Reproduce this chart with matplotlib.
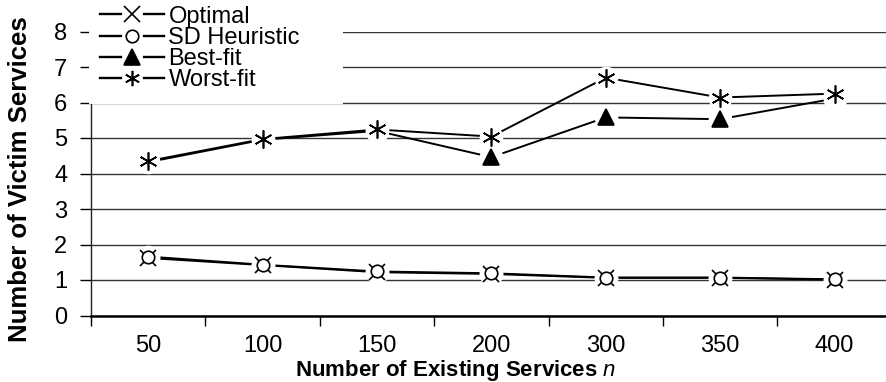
import matplotlib
matplotlib.use('Agg')
import matplotlib.pyplot as plt
import matplotlib.transforms as mtrans
from matplotlib.patches import Rectangle
from matplotlib.lines import Line2D
from matplotlib.legend_handler import HandlerTuple
import numpy as np

plt.rcParams['font.family'] = ['Liberation Sans', 'DejaVu Sans']
plt.rcParams['mathtext.fontset'] = 'custom'
plt.rcParams['mathtext.it'] = 'Liberation Sans:italic'

# data
categories = ['50', '100', '150', '200', '300', '350', '400']
optimal = [1.62, 1.42, 1.22, 1.17, 1.06, 1.06, 1.01]
sd_heuristic = [1.66, 1.43, 1.24, 1.19, 1.07, 1.07, 1.02]
best_fit = [4.32, 4.95, 5.20, 4.46, 5.58, 5.53, 6.11]
worst_fit = [4.35, 4.97, 5.24, 5.04, 6.70, 6.14, 6.25]

x = np.arange(len(categories))
asterisk = (6, 2, 0)

fig = plt.figure(figsize=(8.86, 3.82), dpi=100)
ax = fig.add_axes([91/886, 66.5/382, 795/886, 284/382])

# gridlines
ax.set_ylim(0, 8)
ax.set_xlim(-0.5, 6.45)
ax.set_yticks(range(0, 9))
ax.yaxis.grid(True, color='#333333', lw=1.0, zorder=0)
ax.set_axisbelow(True)

series = [
    (optimal, 'x', 11.5, 'Optimal', None),
    (sd_heuristic, 'o', 9, 'SD Heuristic', None),
    (best_fit, '^', 11, 'Best-fit', [3, 4, 5]),
    (worst_fit, asterisk, 13, 'Worst-fit', None),
]

handles = []
labels = []
for vals, mk, ms, name, mev in series:
    ax.plot(x, vals, color='black', lw=1.4, zorder=2)
    # white halo around markers (gap in lines)
    ax.plot(x, vals, ls='none', marker='o', ms=17, mfc='white', mec='none', zorder=3)
for vals, mk, ms, name, mev in series:
    fill = 'black' if mk == '^' else 'white'
    ax.plot(x, vals, ls='none', marker=mk, ms=ms, mfc=fill, mec='black', mew=1.2,
            markevery=mev, zorder=4)
    h_line = Line2D([], [], color='black', lw=1.7)
    h_halo = Line2D([], [], ls='none', marker='o', ms=15, mfc='white', mec='none')
    h_mark = Line2D([], [], ls='none', marker=mk, ms=min(ms, 11), mfc=fill,
                    mec='black', mew=1.2)
    handles.append((h_line, h_halo, h_mark))
    labels.append(name)

# white area behind legend
tr = mtrans.blended_transform_factory(ax.transAxes, ax.transData)
ax.add_patch(Rectangle((-0.003, 5.97), 0.32, 4, transform=tr, facecolor='white',
                       edgecolor='none', zorder=5, clip_on=False))

leg = fig.legend(handles, labels, loc='upper left', bbox_to_anchor=(100/886, 0.985),
                 handler_map={tuple: HandlerTuple(ndivide=1, pad=0)},
                 frameon=False, fontsize=17, handlelength=2.7, handletextpad=0.2,
                 labelspacing=-0.04, borderpad=0, borderaxespad=0)
leg.set_zorder(6)

# axes styling
for s in ['top', 'right']:
    ax.spines[s].set_visible(False)
ax.spines['bottom'].set_linewidth(1.8)
ax.spines['left'].set_linewidth(1.0)
ax.spines['left'].set_color('#222222')

ax.set_xticks(x)
ax.set_xticklabels(categories)
ax.set_xticks(np.arange(-0.5, 6.0, 1.0), minor=True)
ax.tick_params(axis='x', which='major', length=0, pad=14, labelsize=17)
ax.tick_params(axis='x', which='minor', length=7, width=1.0, direction='out')
ax.tick_params(axis='y', length=8, width=1.0, pad=9, labelsize=17)

ax.set_xlabel('Number of Existing Services $n$', fontsize=16, fontweight='bold')
ax.xaxis.set_label_coords(0.459, -0.15)
ax.set_ylabel('Number of Victim Services', fontsize=18.5, fontweight='bold')
ax.yaxis.set_label_coords(-0.074, 0.48)

fig.savefig('out.png', dpi=100)
